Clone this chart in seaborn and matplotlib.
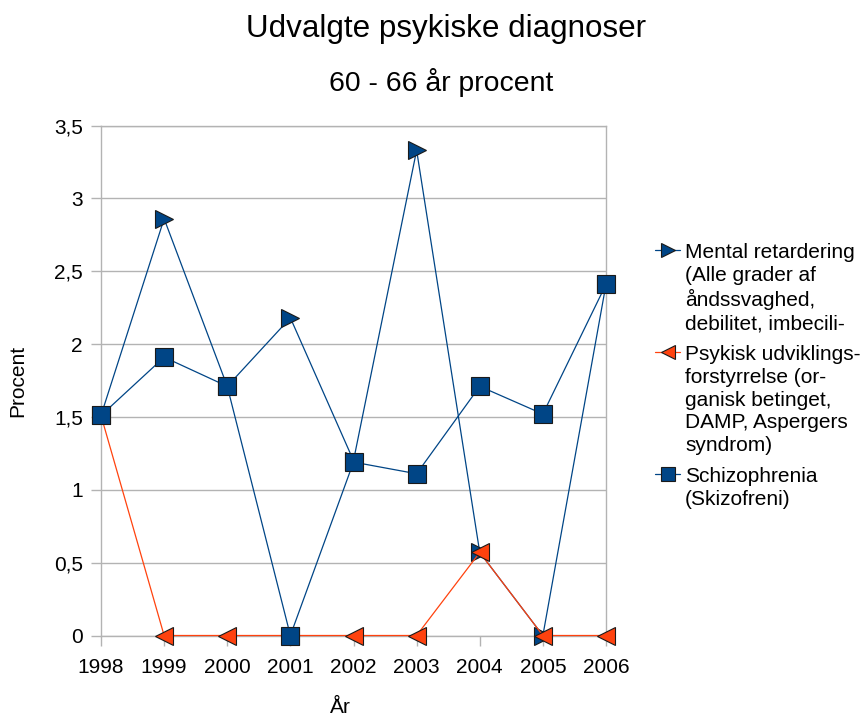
import matplotlib
matplotlib.use("Agg")
import matplotlib.pyplot as plt
import seaborn as sns
import pandas as pd

# ---- data ----
years = [1998, 1999, 2000, 2001, 2002, 2003, 2004, 2005, 2006]
series_names = ["Mental retardering", "Psykisk udviklingsforstyrrelse", "Schizophrenia"]
mental = [1.51, 2.86, 1.71, 2.18, 1.20, 3.33, 0.57, 0.0, 2.41]
psykisk = [1.51, 0.0, 0.0, 0.0, 0.0, 0.0, 0.57, 0.0, 0.0]
schizo = [1.51, 1.91, 1.71, 0.0, 1.19, 1.11, 1.71, 1.52, 2.41]
legend_labels = [
    "Mental retardering\n(Alle grader af\nåndssvaghed,\ndebilitet, imbecili-",
    "Psykisk udviklings-\nforstyrrelse (or-\nganisk betinget,\nDAMP, Aspergers\nsyndrom)",
    "Schizophrenia\n(Skizofreni)",
]
ytick_values = [0, 0.5, 1, 1.5, 2, 2.5, 3, 3.5]
ytick_labels = ["0", "0,5", "1", "1,5", "2", "2,5", "3", "3,5"]
title = "Udvalgte psykiske diagnoser"
subtitle = "60 - 66 år procent"
xlabel = "År"
ylabel = "Procent"

colors = {series_names[0]: "#004586", series_names[1]: "#ff420e", series_names[2]: "#004586"}
markers = {series_names[0]: ">", series_names[1]: "<", series_names[2]: "s"}

rows = []
for name, vals in zip(series_names, [mental, psykisk, schizo]):
    for y, v in zip(years, vals):
        rows.append({"År": y, "Procent": v, "Serie": name})
df = pd.DataFrame(rows)

sns.set_style("white")
plt.rcParams["font.family"] = ["Liberation Sans", "DejaVu Sans"]
plt.rcParams["text.color"] = "black"
plt.rcParams["axes.labelcolor"] = "black"

fig = plt.figure(figsize=(8.66, 7.15), dpi=100)
ax = fig.add_axes([101 / 866, 1 - 635.5 / 715, 505 / 866, 510 / 715])

for i, name in enumerate(series_names):
    sub = df[df["Serie"] == name]
    sns.lineplot(data=sub, x="År", y="Procent", ax=ax, color=colors[name],
                 marker=markers[name], markersize=13.5, markeredgecolor="#1a1a1a",
                 markeredgewidth=0.8, linewidth=0.9, label=name, legend=False,
                 clip_on=False, zorder=3 + i)

ax.set_xlim(years[0], years[-1])
ax.set_ylim(0, 3.5)
ax.set_xticks(years)
ax.set_xticklabels([str(y) for y in years])
ax.set_yticks(ytick_values)
ax.set_yticklabels(ytick_labels)
ax.yaxis.grid(True, color="#b3b3b3", linewidth=1.0)
ax.xaxis.grid(False)
ax.set_axisbelow(True)
for s in ax.spines.values():
    s.set_color("#b3b3b3")
    s.set_linewidth(1.0)
ax.tick_params(axis="y", which="major", direction="out", length=7, width=1.0,
               color="#b3b3b3", labelsize=15, labelcolor="black", pad=6, left=True)
ax.tick_params(axis="x", which="major", direction="out", length=7, width=1.0,
               color="#b3b3b3", labelsize=15, labelcolor="black", pad=9.5, bottom=True)
ax.set_xlabel(xlabel, fontsize=15)
ax.set_ylabel(ylabel, fontsize=15, labelpad=19)
ax.xaxis.set_label_coords((340 - 101) / 505, -0.122)

fig.text(446 / 866, 1 - 37 / 715, title, fontsize=22.6, ha="center", va="baseline")
fig.text(441 / 866, 1 - 91 / 715, subtitle, fontsize=20.4, ha="center", va="baseline")

handles, _ = ax.get_legend_handles_labels()
leg = fig.legend(handles, legend_labels, loc="upper left",
                 bbox_to_anchor=(655 / 866, 1 - 243 / 715), frameon=False,
                 fontsize=15, borderpad=0, handlelength=1.2, handletextpad=0.25,
                 labelspacing=0.55, markerscale=0.7, borderaxespad=0)
for t in leg.get_texts():
    t.set_linespacing(1.26)
try:
    for col in leg._legend_handle_box.get_children():
        for item in col.get_children():
            item.align = "top"
except Exception:
    pass

fig.savefig("out.png", dpi=100)
